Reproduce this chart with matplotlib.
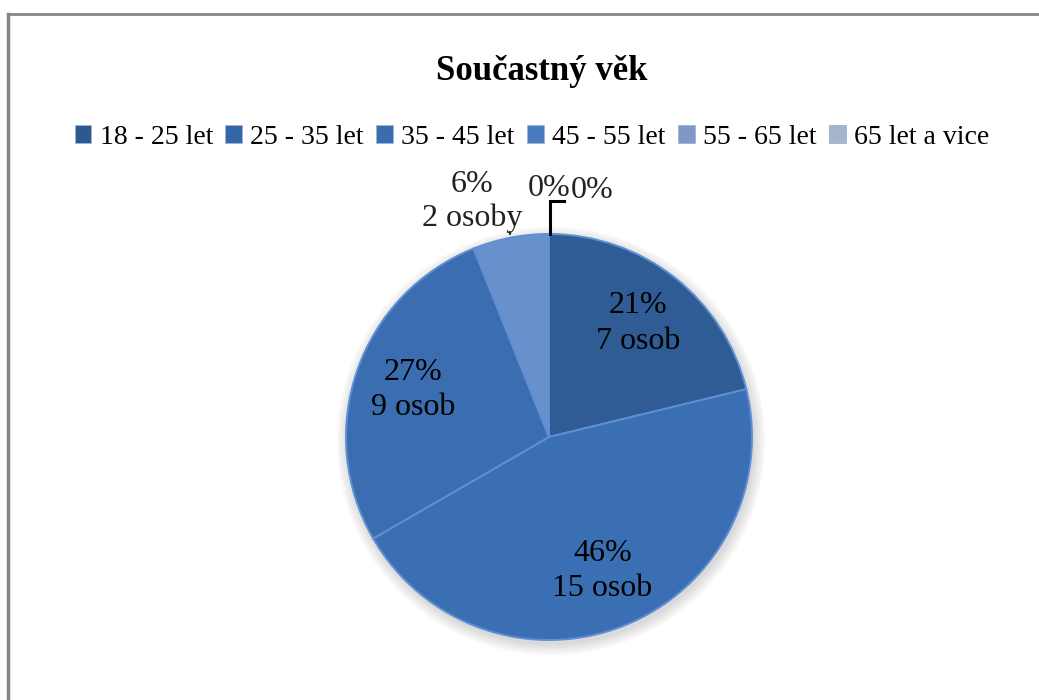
import matplotlib.pyplot as plt
from matplotlib.patches import Patch
from matplotlib.lines import Line2D
import numpy as np

plt.rcParams['font.family'] = ['Liberation Serif', 'DejaVu Serif']

# data
categories = ['18 - 25 let', '25 - 35 let', '35 - 45 let', '45 - 55 let', '55 - 65 let', '65 let a vice']
counts = [7, 15, 9, 2, 0, 0]
pct_labels = [21, 46, 27, 6, 0, 0]
count_labels = ['7 osob', '15 osob', '9 osob', '2 osoby', '', '']
pie_colors = ['#2f5c94', '#3a6fb3', '#3b6eb0', '#6890cc', '#8aa2cc', '#a9b6cf']
legend_colors = ['#2d5890', '#3567a8', '#3a6db0', '#4a7bbd', '#7f98c4', '#a6b3cc']

W, H = 1039, 700
fig = plt.figure(figsize=(W / 100, H / 100), dpi=100)

# pie centre / radius in pixels
cx, cy, r = 549, 437, 203
ax = fig.add_axes([(cx - r) / W, (H - cy - r) / H, 2 * r / W, 2 * r / H])
ax.axis('off')

# soft shadow
for k in range(6):
    ax.add_patch(plt.Circle((0.01, -0.02), 1.0 + 0.01 * k, color='black', alpha=0.025,
                            zorder=0, clip_on=False))

wedges, _ = ax.pie(counts, colors=pie_colors, startangle=90, counterclock=False,
                   radius=1.0, wedgeprops=dict(edgecolor='#5f8fd2', linewidth=1.4))
ax.set_aspect('equal')
ax.set_xlim(-1, 1)
ax.set_ylim(-1, 1)

# inside labels for the big slices
for w, p, cl, c in zip(wedges, pct_labels, count_labels, counts):
    if c < 5:
        continue
    mid = np.deg2rad((w.theta1 + w.theta2) / 2)
    d = 0.71
    ax.text(d * np.cos(mid), d * np.sin(mid), f'{p}%\n{cl}', ha='center', va='center',
            fontsize=23, linespacing=1.3, color='black')

# small slice outside
ax.text(-0.38, 1.16, f'{pct_labels[3]}%\n{count_labels[3]}', ha='center', va='center',
        fontsize=23, linespacing=1.2, color='#222222')
ax.plot([-0.19, -0.19], [1.0, 1.01], color='black', lw=1.2, clip_on=False)

# zero slices
ax.text(0.0, 1.225, f'{pct_labels[4]}%', ha='center', va='center', fontsize=23, color='#222222')
ax.text(0.21, 1.215, f'{pct_labels[5]}%', ha='center', va='center', fontsize=23, color='#222222')
ax.plot([0.005, 0.005, 0.075], [1.0, 1.165, 1.165], color='black', lw=2.2, clip_on=False,
        solid_joinstyle='miter')

fig.text(542 / W, 1 - 72 / H, 'Součastný věk', ha='center', va='center', fontsize=25,
         fontweight='bold')

handles = [Patch(facecolor=c, edgecolor='#9fb4d6', linewidth=0.6) for c in legend_colors]
fig.legend(handles, categories, loc='center', bbox_to_anchor=(532 / W, 1 - 137 / H), ncol=6,
           frameon=False, fontsize=20, handlelength=0.6, handleheight=0.6,
           handletextpad=0.3, columnspacing=0.45, borderaxespad=0)

# chart frame (only top and left edges visible)
fig.add_artist(Line2D([8 / W, 1], [1 - 13.5 / H, 1 - 13.5 / H], color='#858585', lw=2))
fig.add_artist(Line2D([8 / W, 8 / W], [0, 1 - 13.5 / H], color='#858585', lw=2.5))

fig.savefig('out.png', dpi=100)
